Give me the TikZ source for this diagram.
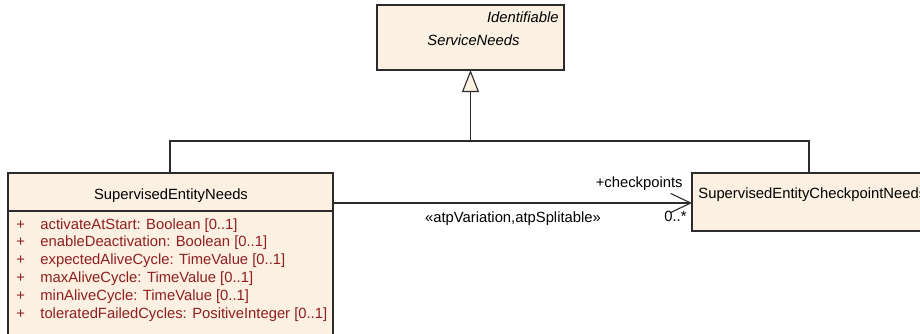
\documentclass[tikz,border=0pt]{standalone}
\usepackage{fontspec}
\setmainfont{Liberation Sans}
\usetikzlibrary{arrows.meta}
\definecolor{boxfill}{HTML}{FBF0E2}
\definecolor{boxline}{HTML}{2B2B2B}
\definecolor{attrred}{HTML}{8F1F1F}
\begin{document}
\begin{tikzpicture}[x=0.5pt,y=-0.5pt,
  umlbox/.style={draw=boxline, fill=boxfill, line width=0.65pt, anchor=north west, inner sep=0pt, outer sep=0pt},
  txt/.style={font=\fontsize{7.4}{8.5}\selectfont, inner sep=0pt, text=black},
  attr/.style={txt, text=attrred, anchor=base west},
  conn/.style={draw=boxline, line width=0.55pt}]
\useasboundingbox (0,0) rectangle (920,333);
\clip (0,0) rectangle (920,333);
% boxes
\node[umlbox, minimum width=93.5pt, minimum height=32.5pt] (sn) at (377,5) {};
\node[umlbox, minimum width=162.5pt, minimum height=90pt] (lb) at (8,173) {};
\node[umlbox, minimum width=130pt, minimum height=29pt] (rb) at (692,173) {};
% texts of ServiceNeeds
\node[txt, anchor=base east, font=\fontsize{7.4}{8.5}\selectfont\itshape] (ident) at (559,22) {Identifiable};
\node[txt, anchor=base west, font=\fontsize{7.4}{8.5}\selectfont\itshape] (sntitle) at (427,45) {ServiceNeeds};
% left box
\node[txt, anchor=base] (lbtitle) at (171,199) {SupervisedEntityNeeds};
\coordinate (sepy) at (0,211);
\draw[conn] (lb.west |- sepy) -- (lb.east |- sepy);
\foreach \t [count=\i from 0] in {activateAtStart: Boolean [0..1],
  enableDeactivation: Boolean [0..1],
  expectedAliveCycle: TimeValue [0..1],
  maxAliveCycle: TimeValue [0..1],
  minAliveCycle: TimeValue [0..1],
  toleratedFailedCycles: PositiveInteger [0..1]} {
  \node[attr] (p\i) at (16,229+17.8*\i) {+};
  \node[attr] (a\i) at (40,229+17.8*\i) {\t};
}
% right box
\node[txt, anchor=base west] (rbtitle) at (698,198) {SupervisedEntityCheckpointNeeds};
% generalization
\coordinate (j) at (470.5,141);
\coordinate (j1) at (170,141);
\coordinate (j2) at (809,141);
\draw[conn] (lb.north west -| j1) -- (j1) -- (j2) -- (rb.north west -| j2);
\draw[conn, -{Triangle[open, length=11pt, width=8.5pt, fill=boxfill]}] (j) -- (sn.south);
% association
\coordinate (ay) at (0,203);
\draw[conn, -{Straight Barb[length=10pt, width=9.5pt, line width=0.55pt]}] (lb.east |- ay) -- (rb.west |- ay);
\node[txt, anchor=base east] (role) at (683,187) {+checkpoints};
\node[txt, anchor=base east] (mult) at (687,221) {0..*};
\node[txt, anchor=base] (stereo) at (513,222) {«atpVariation,atpSplitable»};
\end{tikzpicture}
\end{document}
